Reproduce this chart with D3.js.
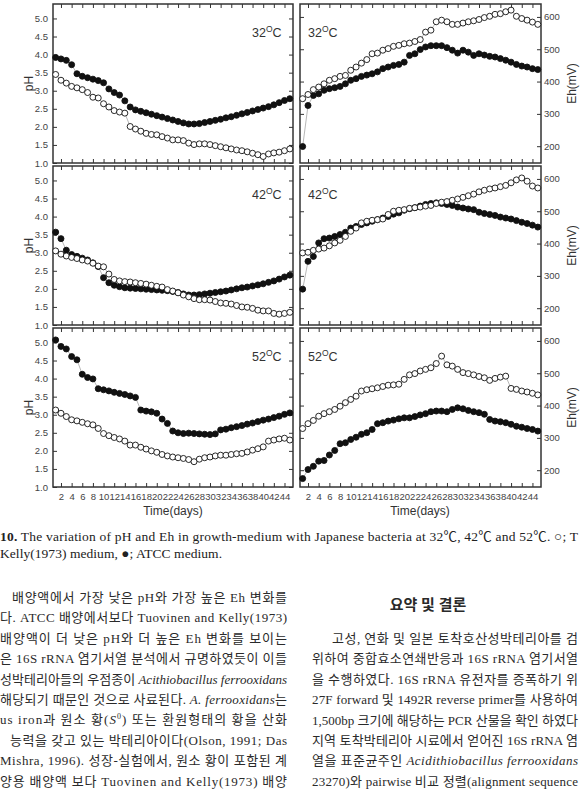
<!DOCTYPE html>
<html>
<head>
<meta charset="utf-8">
<script src="https://cdn.jsdelivr.net/npm/d3@7"></script>
<style>
  html, body { margin: 0; padding: 0; background: #fff; }
  svg { display: block; }
  .tick text { font-family: "Liberation Sans", Arial, sans-serif; font-size: 9.5px; fill: #444; }
  .tick line { stroke: #333; stroke-width: 1; }
  .axis-title { font-family: "Liberation Sans", Arial, sans-serif; font-size: 12px; fill: #333; }
  .temp { font-family: "Liberation Sans", Arial, sans-serif; font-size: 12.5px; fill: #333; }
  .caption { font-family: "Liberation Serif", "Noto Sans CJK KR", serif; font-size: 13.5px; fill: #222; }
  .body { font-family: "Liberation Serif", "Noto Sans CJK KR", serif; font-size: 13px; fill: #2a2a2a; }
</style>
</head>
<body>
<svg id="chart" width="580" height="790"></svg>
<script>
// days 1..45, one reading per day
const days = [1,2,3,4,5,6,7,8,9,10,11,12,13,14,15,16,17,18,19,20,21,22,23,24,25,26,27,28,29,30,31,32,33,34,35,36,37,38,39,40,41,42,43,44,45];
const temps = ["32", "42", "52"];

// open = Tuovinen and Kelly(1973) medium, filled = ATCC medium
const ph32Tk = [3.45,3.29,3.21,3.12,3.08,3.03,2.95,2.82,2.80,2.64,2.55,2.45,2.41,2.38,2.01,1.94,1.88,1.82,1.79,1.78,1.73,1.69,1.64,1.64,1.62,1.55,1.51,1.53,1.53,1.51,1.48,1.45,1.42,1.39,1.36,1.34,1.31,1.27,1.23,1.18,1.25,1.28,1.30,1.34,1.39];
const ph32Atcc = [3.92,3.88,3.84,3.72,3.47,3.40,3.36,3.32,3.28,3.22,3.05,2.95,2.88,2.72,2.55,2.47,2.43,2.39,2.35,2.31,2.27,2.23,2.19,2.15,2.11,2.08,2.08,2.09,2.12,2.15,2.18,2.21,2.25,2.28,2.32,2.36,2.40,2.44,2.48,2.52,2.56,2.61,2.67,2.73,2.78];
const eh32Tk = [347,360,375,383,393,404,409,416,419,435,445,457,468,486,488,497,502,509,512,517,519,524,530,553,559,585,590,585,577,577,581,585,588,592,598,602,608,610,616,621,602,595,590,584,577];
const eh32Atcc = [199,326,357,362,373,378,381,385,393,404,409,416,420,424,430,440,445,450,453,460,481,486,499,507,511,511,511,505,497,488,497,491,481,486,482,478,476,471,466,460,453,448,445,440,437];

const ph42Tk = [3.05,2.96,2.91,2.87,2.84,2.80,2.77,2.71,2.63,2.61,2.41,2.26,2.22,2.20,2.19,2.17,2.15,2.13,2.10,2.07,2.05,1.98,1.94,1.89,1.83,1.78,1.73,1.70,1.70,1.69,1.65,1.61,1.60,1.58,1.54,1.50,1.49,1.46,1.41,1.39,1.39,1.32,1.30,1.32,1.35];
const ph42Atcc = [3.57,3.39,3.07,2.95,2.90,2.85,2.80,2.72,2.62,2.31,2.17,2.10,2.06,2.03,2.02,2.01,2.00,1.99,1.98,1.97,1.96,1.95,1.93,1.90,1.86,1.83,1.83,1.84,1.86,1.88,1.90,1.92,1.94,1.97,2.00,2.03,2.05,2.08,2.11,2.14,2.18,2.22,2.27,2.33,2.38];
const eh42Tk = [371,373,379,383,386,393,402,410,422,438,448,464,469,472,474,476,490,500,503,505,509,511,513,516,518,524,528,530,534,538,543,548,553,560,565,569,572,576,580,588,597,603,593,578,572];
const eh42Atcc = [259,345,360,402,415,417,422,428,435,448,453,459,464,469,474,479,484,491,495,503,508,511,516,521,524,526,524,521,518,513,510,507,505,497,493,490,487,482,479,476,471,466,462,457,451];

const ph52Tk = [3.13,3.04,2.95,2.86,2.83,2.79,2.75,2.72,2.62,2.48,2.42,2.37,2.33,2.27,2.16,2.16,2.10,2.05,2.00,1.96,1.90,1.86,1.83,1.81,1.79,1.76,1.70,1.77,1.81,1.83,1.86,1.88,1.88,1.90,1.92,1.93,1.97,2.02,2.06,2.11,2.27,2.30,2.33,2.35,2.30];
const ph52Atcc = [5.07,4.89,4.82,4.61,4.52,4.12,4.03,3.99,3.72,3.69,3.66,3.62,3.59,3.56,3.52,3.48,3.13,3.10,3.08,3.04,2.88,2.76,2.55,2.50,2.48,2.49,2.48,2.47,2.46,2.45,2.47,2.58,2.60,2.64,2.67,2.70,2.74,2.77,2.81,2.85,2.88,2.92,2.96,3.01,3.05];
const eh52Tk = [329,344,354,367,375,381,388,398,409,419,429,445,449,452,455,459,463,464,466,481,495,499,507,512,517,530,553,526,522,512,502,499,495,490,486,478,484,488,491,453,450,445,442,438,433];
const eh52Atcc = [174,202,212,228,230,247,261,282,285,295,302,311,316,326,344,347,352,355,359,362,362,366,371,375,381,383,383,381,388,393,390,385,381,378,373,357,352,350,347,342,336,333,329,326,321];

const phTicks = [1.0,1.5,2.0,2.5,3.0,3.5,4.0,4.5,5.0];
const ehTicks = [200,300,400,500,600];
const dayTicks = [2,4,6,8,10,12,14,16,18,20,22,24,26,28,30,32,34,36,38,40,42,44];

const svg = d3.select("#chart");

const panelTops = [4, 166, 328];
const panelH = 159;
const xLeft = d3.scaleLinear().domain([0.5, 45.6]).range([53, 293]);
const xRight = d3.scaleLinear().domain([0.5, 45.6]).range([300, 541]);

const rows = [
  { temp: temps[0], ph: [ph32Tk, ph32Atcc], eh: [eh32Tk, eh32Atcc] },
  { temp: temps[1], ph: [ph42Tk, ph42Atcc], eh: [eh42Tk, eh42Atcc] },
  { temp: temps[2], ph: [ph52Tk, ph52Atcc], eh: [eh52Tk, eh52Atcc] }
];

const addTemp = (x, y, temp) => {
  const t = svg.append("text").attr("class", "temp").attr("x", x).attr("y", y);
  t.append("tspan").text(temp);
  t.append("tspan").attr("dy", -5).style("font-size", "8.5px").text("O");
  t.append("tspan").attr("dy", 5).text("C");
};

const drawPanel = (x, y, series, ticks, isLeft, isBottom, top, temp) => {
  const g = svg.append("g");
  const x0 = x.range()[0];
  const x1 = x.range()[1];
  const bottom = top + panelH;

  // inward ticks on all four sides
  const bottomAxis = d3.axisBottom(x).tickValues(dayTicks).tickSize(-4).tickSizeOuter(0).tickPadding(6);
  if (!isBottom) bottomAxis.tickFormat("");
  g.append("g").attr("transform", `translate(0,${bottom})`).call(bottomAxis);
  g.append("g").attr("transform", `translate(0,${top})`)
    .call(d3.axisTop(x).tickValues(dayTicks).tickSize(-4).tickSizeOuter(0).tickFormat(""));

  const labelled = isLeft
    ? d3.axisLeft(y).tickValues(ticks).tickFormat(d3.format(".1f"))
    : d3.axisRight(y).tickValues(ticks).tickFormat(d3.format("d"));
  labelled.tickSize(-4).tickSizeOuter(0).tickPadding(isLeft ? 5 : 3);
  g.append("g").attr("transform", `translate(${isLeft ? x0 : x1},0)`).call(labelled);

  const plain = (isLeft ? d3.axisRight(y) : d3.axisLeft(y))
    .tickValues(ticks).tickSize(-4).tickSizeOuter(0).tickFormat("");
  g.append("g").attr("transform", `translate(${isLeft ? x1 : x0},0)`).call(plain);

  g.selectAll(".domain").remove();

  g.append("rect")
    .attr("x", x0).attr("y", top)
    .attr("width", x1 - x0).attr("height", panelH)
    .attr("fill", "none").attr("stroke", "#333").attr("stroke-width", 1.5);

  const line = d3.line().x((d, i) => x(days[i])).y((d) => y(d));
  // filled (ATCC) first, open (Tuovinen & Kelly) on top
  [series[1], series[0]].forEach((values, k) => {
    g.append("path").datum(values)
      .attr("d", line).attr("fill", "none")
      .attr("stroke", "#9a9a9a").attr("stroke-width", 0.7);
    g.append("g").selectAll("circle").data(values).enter()
      .append("circle")
      .attr("cx", (d, i) => x(days[i]))
      .attr("cy", (d) => y(d))
      .attr("r", 3)
      .attr("fill", k === 0 ? "#111" : "#fff")
      .attr("stroke", "#111")
      .attr("stroke-width", 0.9);
  });

  addTemp(isLeft ? 252 : 308, top + 33, temp);
};

rows.forEach((row, i) => {
  const top = panelTops[i];
  const yPh = d3.scaleLinear().domain([1, 5.4]).range([top + panelH, top]);
  const yEh = d3.scaleLinear().domain([148, 640]).range([top + panelH, top]);
  const isBottom = i === rows.length - 1;
  drawPanel(xLeft, yPh, row.ph, phTicks, true, isBottom, top, row.temp);
  drawPanel(xRight, yEh, row.eh, ehTicks, false, isBottom, top, row.temp);

  const mid = top + panelH / 2;
  svg.append("text").attr("class", "axis-title")
    .attr("transform", `translate(29,${mid}) rotate(-90)`)
    .attr("text-anchor", "middle").attr("dominant-baseline", "central")
    .text("pH");
  svg.append("text").attr("class", "axis-title")
    .attr("transform", `translate(572,${mid}) rotate(-90)`)
    .attr("text-anchor", "middle").attr("dominant-baseline", "central")
    .text("Eh(mV)");
});

svg.append("text").attr("class", "axis-title").attr("x", 173).attr("y", 515)
  .attr("text-anchor", "middle").text("Time(days)");
svg.append("text").attr("class", "axis-title").attr("x", 420).attr("y", 515)
  .attr("text-anchor", "middle").text("Time(days)");

// caption
const cap1 = svg.append("text").attr("class", "caption").attr("x", 0).attr("y", 541)
  .attr("textLength", 578).attr("lengthAdjust", "spacing");
cap1.append("tspan").attr("font-weight", "bold").text("10.");
cap1.append("tspan").text(" The variation of pH and Eh in growth-medium with Japanese  bacteria at 32℃, 42℃ and 52℃. ○; T");
svg.append("text").attr("class", "caption").attr("x", 0).attr("y", 558)
  .attr("textLength", 222).attr("lengthAdjust", "spacing")
  .text("Kelly(1973)  medium, ●;  ATCC  medium.");

// body text, two columns
const leftLines = [
  { x: 12, parts: [["배양액에서 가장 낮은 pH와 가장 높은 Eh 변화를"]] },
  { x: 0, parts: [["다. ATCC 배양에서보다 Tuovinen and Kelly(1973)"]] },
  { x: 0, parts: [["배양액이 더 낮은 pH와 더 높은 Eh 변화를 보이는"]] },
  { x: 0, parts: [["은 16S rRNA 염기서열 분석에서 규명하였듯이 이들"]] },
  { x: 0, parts: [["성박테리아들의 우점종이 "], ["Acithiobacillus ferrooxidans", "i"]] },
  { x: 0, parts: [["해당되기 때문인 것으로 사료된다. "], ["A. ferrooxidans", "i"], ["는"]] },
  { x: 0, parts: [["us iron과 원소 황("], ["S", "i"], ["0", "sup"], [") 또는 환원형태의 황을 산화"]] },
  { x: 10, parts: [["능력을 갖고 있는 박테리아이다(Olson, 1991; Das"]] },
  { x: 0, parts: [["Mishra, 1996). 성장-실험에서, 원소 황이 포함된 계"]] },
  { x: 0, parts: [["양용 배양액 보다 Tuovinen and Kelly(1973) 배양"]] }
];
const rightLines = [
  { x: 332, parts: [["고성, 연화 및 일본 토착호산성박테리아를 검"]] },
  { x: 312, parts: [["위하여 중합효소연쇄반응과 16S rRNA 염기서열"]] },
  { x: 312, parts: [["을 수행하였다. 16S rRNA 유전자를 증폭하기 위"]] },
  { x: 312, parts: [["27F forward 및 1492R reverse primer를 사용하여"]] },
  { x: 312, parts: [["1,500bp 크기에 해당하는 PCR 산물을 확인 하였다"]] },
  { x: 312, parts: [["지역 토착박테리아 시료에서 얻어진 16S rRNA 염"]] },
  { x: 312, parts: [["열을 표준균주인 "], ["Acidithiobacillus ferrooxidans", "i"]] },
  { x: 312, parts: [["23270)와 pairwise 비교 정렬(alignment sequence"]] }
];

const writeLine = (line, y, right) => {
  const t = svg.append("text").attr("class", "body").attr("x", line.x).attr("y", y)
    .attr("textLength", right - line.x).attr("lengthAdjust", "spacing");
  let raised = false;
  line.parts.forEach(([s, style]) => {
    const sp = t.append("tspan").text(s);
    if (style === "i") sp.attr("font-style", "italic");
    if (style === "sup") {
      sp.attr("dy", -5).style("font-size", "8px");
      raised = true;
    } else if (raised) {
      sp.attr("dy", 5);
      raised = false;
    }
  });
};

leftLines.forEach((line, i) => writeLine(line, 602 + i * 20.4, 287));
rightLines.forEach((line, i) => writeLine(line, 643 + i * 20.4, 578));

svg.append("text").attr("class", "body").attr("x", 428).attr("y", 610)
  .attr("text-anchor", "middle").attr("font-weight", "bold").style("font-size", "15px")
  .text("요약 및 결론");
</script>
</body>
</html>
